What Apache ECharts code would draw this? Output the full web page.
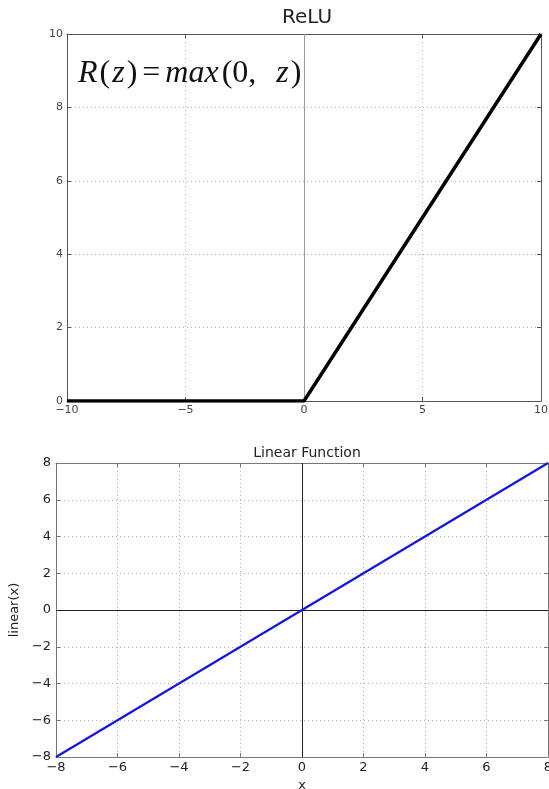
<!DOCTYPE html>
<html><head><meta charset="utf-8">
<script src="https://cdn.jsdelivr.net/npm/echarts@6/dist/echarts.min.js"></script>
<style>html,body{margin:0;padding:0;background:#fff;overflow:hidden}#c{width:549px;height:789px}</style>
</head><body><div id="c"></div>
<script>
// ReLU chart data
const reluX = [-10, 0, 10];
const reluY = [0, 0, 10];
const reluTitle = 'ReLU';
// Linear chart data
const linX = [-8, 8];
const linY = [-8, 8];
const linTitle = 'Linear Function';
const linYName = 'linear(x)';
const linXName = 'x';

const fmt = v => String(v).replace('-', '\u2212');
const font = 'DejaVu Sans';
const dotted = {show: true, lineStyle: {color: '#b0b0b0', type: [1, 3], width: 1}};

const chart = echarts.init(document.getElementById('c'));
const hiddenAxis = (gi, pos, min, max, interval, tickColor) => ({
  type: 'value', gridIndex: gi, position: pos, min, max, interval,
  axisLabel: {show: false}, splitLine: {show: false},
  axisLine: {show: true, onZero: false, lineStyle: {color: tickColor, width: 1}},
  axisTick: {show: true, inside: true, length: 4, lineStyle: {color: tickColor}}
});

chart.setOption({
  animation: false,
  title: [
    {text: reluTitle, left: 302, top: 3, textAlign: 'center',
     textStyle: {fontFamily: font, fontSize: 20, fontWeight: 'normal', color: '#222'}},
    {text: linTitle, left: 302, top: 441, textAlign: 'center',
     textStyle: {fontFamily: font, fontSize: 14, fontWeight: 'normal', color: '#222'}}
  ],
  grid: [
    {left: 67, right: 8, top: 34, height: 367, outerBoundsMode: 'none', containLabel: false},
    {left: 56, right: 1, top: 463, height: 294, outerBoundsMode: 'none', containLabel: false}
  ],
  xAxis: [
    {type: 'value', gridIndex: 0, min: -10, max: 10, interval: 5,
     axisLine: {onZero: false, lineStyle: {color: '#555'}},
     axisTick: {inside: true, length: 4, lineStyle: {color: '#555'}},
     axisLabel: {formatter: fmt, fontFamily: font, fontSize: 11, color: '#444', margin: 4},
     splitLine: dotted},
    hiddenAxis(0, 'top', -10, 10, 5, '#555'),
    {type: 'value', gridIndex: 1, min: -8, max: 8, interval: 2,
     name: linXName, nameLocation: 'middle', nameGap: 22,
     nameTextStyle: {fontFamily: font, fontSize: 13, color: '#222'},
     axisLine: {onZero: false, lineStyle: {color: '#777'}},
     axisTick: {inside: true, length: 4, lineStyle: {color: '#777'}},
     axisLabel: {formatter: fmt, fontFamily: font, fontSize: 13, color: '#222', margin: 4},
     splitLine: dotted},
    hiddenAxis(1, 'top', -8, 8, 2, '#777')
  ],
  yAxis: [
    {type: 'value', gridIndex: 0, min: 0, max: 10, interval: 2,
     axisLine: {show: true, onZero: false, lineStyle: {color: '#555'}},
     axisTick: {show: true, inside: true, length: 4, lineStyle: {color: '#555'}},
     axisLabel: {formatter: fmt, fontFamily: font, fontSize: 11, color: '#444', margin: 4},
     splitLine: dotted},
    hiddenAxis(0, 'right', 0, 10, 2, '#555'),
    {type: 'value', gridIndex: 1, min: -8, max: 8, interval: 2,
     name: linYName, nameLocation: 'middle', nameGap: 27, nameRotate: 90,
     nameTextStyle: {fontFamily: font, fontSize: 13, color: '#222'},
     axisLine: {show: true, onZero: false, lineStyle: {color: '#777'}},
     axisTick: {show: true, inside: true, length: 4, lineStyle: {color: '#777'}},
     axisLabel: {formatter: fmt, fontFamily: font, fontSize: 13, color: '#222', margin: 5},
     splitLine: dotted},
    hiddenAxis(1, 'right', -8, 8, 2, '#777')
  ],
  series: [
    {type: 'line', xAxisIndex: 0, yAxisIndex: 0, symbol: 'none',
     data: reluX.map((x, i) => [x, reluY[i]]),
     lineStyle: {color: '#000', width: 3.5}, z: 5,
     markLine: {silent: true, symbol: 'none', label: {show: false},
       lineStyle: {color: '#9a9a9a', type: 'solid', width: 1},
       data: [{xAxis: 0}]}},
    {type: 'line', xAxisIndex: 2, yAxisIndex: 2, symbol: 'none',
     data: linX.map((x, i) => [x, linY[i]]),
     lineStyle: {color: '#1515e0', width: 2.2}, z: 5,
     markLine: {silent: true, symbol: 'none', label: {show: false},
       lineStyle: {color: '#222', type: 'solid', width: 1},
       data: [{xAxis: 0}, {yAxis: 0}]}}
  ],
  graphic: [{
    type: 'text', left: 78, top: 58, z: 10,
    style: {
      text: '{i|R}{u|(}{i|z}{u|)}{e|=}{m|max}{u|(0,}{s|}{i|z}{u|)}',
      rich: {
        i: {fontFamily: 'Liberation Serif', fontStyle: 'italic', fontSize: 32, fill: '#111', padding: [0, 1, 0, 1]},
        m: {fontFamily: 'Liberation Serif', fontStyle: 'italic', fontSize: 32, fill: '#111', padding: [0, 2, 0, 2]},
        u: {fontFamily: 'Liberation Serif', fontSize: 32, fill: '#111', padding: [0, 1, 0, 1]},
        e: {fontFamily: 'Liberation Serif', fontSize: 32, fill: '#111', padding: [0, 3, 0, 4]},
        s: {width: 18}
      }
    }
  }]
});
</script></body></html>
